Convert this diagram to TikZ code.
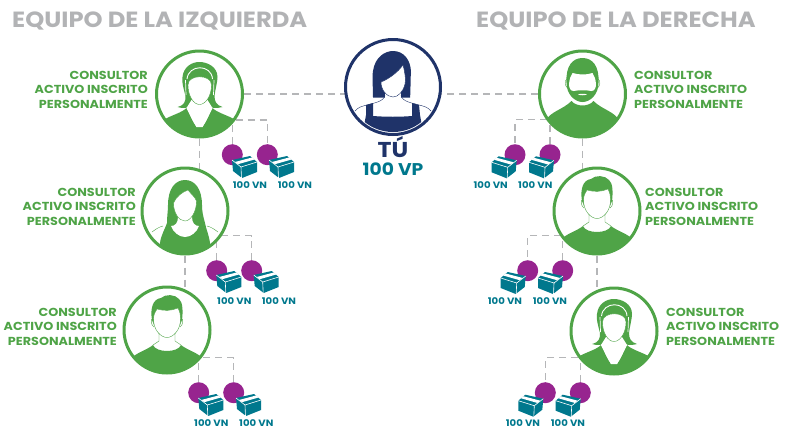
\documentclass[tikz,border=0pt]{standalone}
\usepackage{fontspec}
\setmainfont{Poppins}[FakeStretch=1.1]
\usetikzlibrary{backgrounds}
\definecolor{gr}{HTML}{4FA447}
\definecolor{nv}{HTML}{1F3369}
\definecolor{tl}{HTML}{00788D}
\definecolor{pu}{HTML}{97248F}
\definecolor{gt}{HTML}{B2B3B5}
\definecolor{gl}{HTML}{B5B6B8}
\tikzset{
 x=1pt,y=-1pt,
 ring/.style={circle,draw=gr,line width=3pt,fill=white,minimum size=86pt,inner sep=0pt},
 ringtu/.style={ring,draw=nv,minimum size=95pt},
 dot/.style={circle,fill=pu,minimum size=21pt,inner sep=0pt},
 link/.style={draw=gl,line width=1.1pt,dash pattern=on 7pt off 5pt},
 head/.style={font=\bfseries\fontsize{22}{26}\selectfont,text=gt,inner sep=0pt},
 who/.style={font=\bfseries\fontsize{11.6}{14.5}\selectfont,text=gr,inner sep=0pt},
 vn/.style={font=\bfseries\fontsize{9.2}{10}\selectfont,text=tl,inner sep=0pt},
 face/.style={fill=white,draw=#1,line width=0.4pt},
 crate/.pic={
  \fill[tl] (-13,-7)--(5,-11)--(12,-5)--(12,5)--(-3,11)--(-12,4)--cycle;
  \draw[white,line width=0.6pt] (-13,-7)--(-4,0)--(12,-5) (-4,0)--(-3.5,11);
  \fill[white] (-10,-5)--(7,-9.5)--(9.5,-7.5)--(-7,-2.8)--cycle;
 },
 ladyband/.pic={
  \begin{scope}
  \clip (0,0) circle (43);
  \fill[gr] (-36,26) .. controls (-28,21) and (-18,19) .. (-13,14) .. controls (-9,22) and (-7,28) .. (-3,33) -- (3,33) .. controls (7,28) and (9,22) .. (13,14) .. controls (18,19) and (28,21) .. (36,26) -- (36,50) -- (-36,50) -- cycle;
  \end{scope}
  \fill[gr] (-22,13) .. controls (-15,11) and (-14,8) .. (-14,2) .. controls (-16,-6) and (-18,-12) .. (-17,-17) .. controls (-16,-27) and (-8,-32) .. (0,-32) .. controls (8,-32) and (18,-27) .. (18,-17) .. controls (18,-12) and (16,-6) .. (15,2) .. controls (15,8) and (17,11) .. (23,13) .. controls (16,15) and (11,14) .. (8,11) -- (-8,11) .. controls (-11,14) and (-16,15) .. (-22,13) -- cycle;
  \fill[white] (-8,6) -- (8,6) -- (13,14) -- (3,33) -- (-3,33) -- (-13,14) -- cycle;
  \draw[face=gr] (-11.5,-9) .. controls (-11.5,-20) and (12,-20) .. (12,-9) .. controls (12,2) and (6,10.5) .. (0,10.5) .. controls (-6,10.5) and (-11.5,2) .. (-11.5,-9) -- cycle;
  \draw[white,line width=0.9pt] (-12.5,-15) .. controls (-11,-30) and (12,-30) .. (13,-15);
  \draw[white,line width=0.7pt] (-14,-14) -- (-13.5,1) (14.5,-14) -- (14,1);
 },
 ladylong/.pic={
  \begin{scope}
  \clip (0,0) circle (43);
  \draw[gr,line width=0.4pt] (-33,21) .. controls (-29,18) and (-26,16) .. (-22,15) (33,21) .. controls (29,18) and (26,16) .. (22,15);
  \fill[gr] (-25,32) .. controls (-24,24) and (-20,18) .. (-18,12) .. controls (-18,5) and (-17,0) .. (-17,-6) .. controls (-17,-22) and (-10,-31) .. (0,-31) .. controls (10,-31) and (17,-22) .. (17,-6) .. controls (17,0) and (18,5) .. (20,12) .. controls (21,18) and (24,24) .. (25,32) -- (25,50) -- (-25,50) -- cycle;
  \end{scope}
  \fill[white] (-14,15) .. controls (-10,15) and (-7,12) .. (-7,6) -- (7,6) .. controls (7,12) and (10,15) .. (14,15) .. controls (12,21) and (6,26) .. (0,26) .. controls (-6,26) and (-12,21) .. (-14,15) -- cycle;
  \draw[face=gr] (-11.5,-8) .. controls (-9,-14) and (-3,-19) .. (3,-21) .. controls (6,-17) and (10,-14) .. (11.5,-10) .. controls (11.5,2) and (5,10) .. (0,10) .. controls (-6,10) and (-11.5,2) .. (-11.5,-8) -- cycle;
 },
 guy/.pic={
  \begin{scope}
  \clip (0,0) circle (43);
  \fill[gr] (-38,30) .. controls (-30,22) and (-20,20) .. (-14,15) .. controls (-11,23) and (11,23) .. (14,15) .. controls (20,20) and (30,22) .. (38,30) -- (38,50) -- (-38,50) -- cycle;
  \end{scope}
  \draw[gr,line width=0.4pt] (-14,-12) .. controls (-17,-11) and (-16,-5) .. (-13,-3) (14,-12) .. controls (17,-11) and (16,-5) .. (13,-3) (-8,3) -- (-8,11) -- (-14,15) (8,3) -- (8,11) -- (14,15);
  \fill[gr] (-15,-10) .. controls (-17,-22) and (-14,-31) .. (-6,-32) .. controls (-2,-36) and (8,-36) .. (12,-31) .. controls (16,-28) and (16,-18) .. (15,-10) -- (13,-5) -- (-13,-5) -- cycle;
  \draw[face=gr] (-13.5,-12) .. controls (-13,-16) and (-12,-18) .. (-10,-21) .. controls (-3,-19) and (4,-19) .. (11,-22) .. controls (13,-18) and (13.5,-15) .. (13.5,-12) .. controls (14,0) and (6,7.5) .. (0,7.5) .. controls (-6,7.5) and (-14,0) .. (-13.5,-12) -- cycle;
 },
 beard/.pic={
  \begin{scope}
  \clip (0,0) circle (43);
  \fill[gr] (-38,28) .. controls (-32,17) and (-20,16) .. (-11,7) .. controls (-6,13) and (6,13) .. (11,7) .. controls (20,16) and (32,17) .. (38,28) -- (38,50) -- (-38,50) -- cycle;
  \end{scope}
  \draw[gr,line width=0.4pt] (-15.5,-15) .. controls (-18,-14) and (-18,-8) .. (-15,-6) (15.5,-15) .. controls (18,-14) and (18,-8) .. (15,-6);
  \fill[gr] (-16,-11) .. controls (-17,-28) and (-10,-36) .. (0,-36) .. controls (10,-36) and (17,-28) .. (16,-11) .. controls (16,0) and (8,8) .. (0,8) .. controls (-8,8) and (-16,0) .. (-16,-11) -- cycle;
  \fill[white] (-13.5,-10) .. controls (-13,-15) and (-12,-18) .. (-10,-21) .. controls (-3,-19) and (4,-19) .. (10,-21) .. controls (12,-18) and (13,-15) .. (13.5,-10) .. controls (13.5,-6) and (12,-3) .. (9,-3) .. controls (4,-4) and (-4,-4) .. (-9,-3) .. controls (-12,-3) and (-13.5,-6) .. (-13.5,-10) -- cycle;
  \fill[white] (-4.5,0.5) .. controls (-2,-0.5) and (2,-0.5) .. (4.5,0.5) .. controls (2,1.5) and (-2,1.5) .. (-4.5,0.5) -- cycle;
 },
 youlady/.pic={
  \begin{scope}
  \clip (0,0) circle (45);
  \fill[nv] (-27,18) -- (-20,16) -- (-20,29) .. controls (-7,30) and (7,30) .. (19,29) -- (19,16) -- (26,18) -- (27,28) -- (31,50) -- (-31,50) -- (-27,28) -- cycle;
  \end{scope}
  \fill[nv] (-20,10.5) .. controls (-20,0) and (-21,-10) .. (-20,-16) .. controls (-18,-30) and (-8,-36) .. (0,-36) .. controls (10,-36) and (18,-28) .. (18,-14) .. controls (17,-4) and (18,2) .. (17,10.5) -- cycle;
  \fill[white] (-8,3) rectangle (8,12);
  \begin{scope}
  \clip (0,0) circle (45);
  \draw[nv,line width=0.4pt] (-38,24) .. controls (-35,20) and (-30,19) .. (-26,18) .. controls (-20,16) and (-9,15) .. (-8,8) (38,24) .. controls (35,20) and (30,19) .. (26,18) .. controls (20,16) and (9,15) .. (8,8);
  \end{scope}
  \draw[face=nv] (-12,-5) .. controls (-4,-8) and (5,-15) .. (10,-22) .. controls (12,-14) and (13,-8) .. (12,-3) .. controls (10,5) and (5,10) .. (0,10) .. controls (-6,10) and (-12,3) .. (-12,-5) -- cycle;
 },
}
\begin{document}
\begin{tikzpicture}
\useasboundingbox (0,0) rectangle (789,432);
% people
\node[ringtu] (tu) at (393,87) {};
\node[ring] (L1) at (199.5,94) {};
\node[ring] (L2) at (185,211) {};
\node[ring] (L3) at (167,330) {};
\node[ring] (R1) at (582.5,94) {};
\node[ring] (R2) at (597,211) {};
\node[ring] (R3) at (614,331) {};
\pic at (tu) {youlady};
\pic at (L1) {ladyband};
\pic at (L2) {ladylong};
\pic at (L3) {guy};
\pic at (R1) {beard};
\pic at (R2) {guy};
\pic at (R3) {ladyband};
% titles
\node[head,anchor=west] (tl) at (12,20.8) {EQUIPO DE LA IZQUIERDA};
\node[head,anchor=west] (tr) at (476,20.8) {EQUIPO DE LA DERECHA};
\node[font=\bfseries\fontsize{21.5}{24}\selectfont,text=nv,inner sep=0pt] (tuname) at (393,147.5) {TÚ};
\node[font=\bfseries\fontsize{17}{18}\selectfont,text=tl,inner sep=0pt] (tuvp) at (393,169) {100 VP};
% labels
\foreach \n/\x/\y/\a/\al in {wL1/148/89.7/east/right,wL2/136/206.7/east/right,wL3/117/326.7/east/right,wR1/634/89.7/west/left,wR2/645/206.7/west/left,wR3/666/326.7/west/left}
 \node[who,anchor=\a,align=\al] (\n) at (\x,\y) {CONSULTOR\\ACTIVO INSCRITO\\PERSONALMENTE};
% children: name / dot x1 / dot x2 / dot y / junction y / crate x1 / crate x2 / crate y / label x1 / label x2 / label y / mirror
\foreach \n/\pa/\pb/\py/\jy/\ba/\bb/\by/\la/\lb/\ly/\fl in {
 L1/232.3/267.3/154.7/120/245/282/167/250/295/185.5/1,
 L2/216.7/251.7/270.7/235.7/229.3/266.7/282/234.3/279/301/1,
 L3/198.7/233.7/392.7/357.5/211.3/249/405/211.3/256.3/423.3/1,
 R1/515/550/154.7/119.5/503.7/541/167.3/490.7/535.3/185.5/-1,
 R2/527.7/562.7/270.7/235.7/512.7/550/283/505/550/301/-1,
 R3/545.3/580.3/392.7/357.7/530.3/567.7/405.7/523/568/423.3/-1}{
 \node[dot] (\n a) at (\pa,\py) {};
 \node[dot] (\n b) at (\pb,\py) {};
 \pic[xscale=\fl] at (\ba,\by) {crate};
 \pic[xscale=\fl] at (\bb,\by) {crate};
 \node[vn] (\n va) at (\la,\ly) {100 VN};
 \node[vn] (\n vb) at (\lb,\ly) {100 VN};
 \coordinate (\n j) at (\n |- 0,\jy);
 \begin{scope}[on background layer]
  \ifnum\fl=1
   \draw[link] (\n j) -| (\n b);
   \draw[link] (\n a) -- (\n a |- \n j);
  \else
   \draw[link] (\n j) -| (\n a);
   \draw[link] (\n b) -- (\n b |- \n j);
  \fi
 \end{scope}
}
\begin{scope}[on background layer]
 \draw[link] (L1) -- (tu.center |- L1);
 \draw[link] (R1) -- (tu.center |- R1);
 \draw[link] (L1) -- (L1 |- L2);
 \draw[link] (L2) -- (L2 |- L3);
 \draw[link] (R1) -- (R1 |- R2);
 \draw[link] (R2) -- (R2 |- R3);
\end{scope}
\end{tikzpicture}
\end{document}
